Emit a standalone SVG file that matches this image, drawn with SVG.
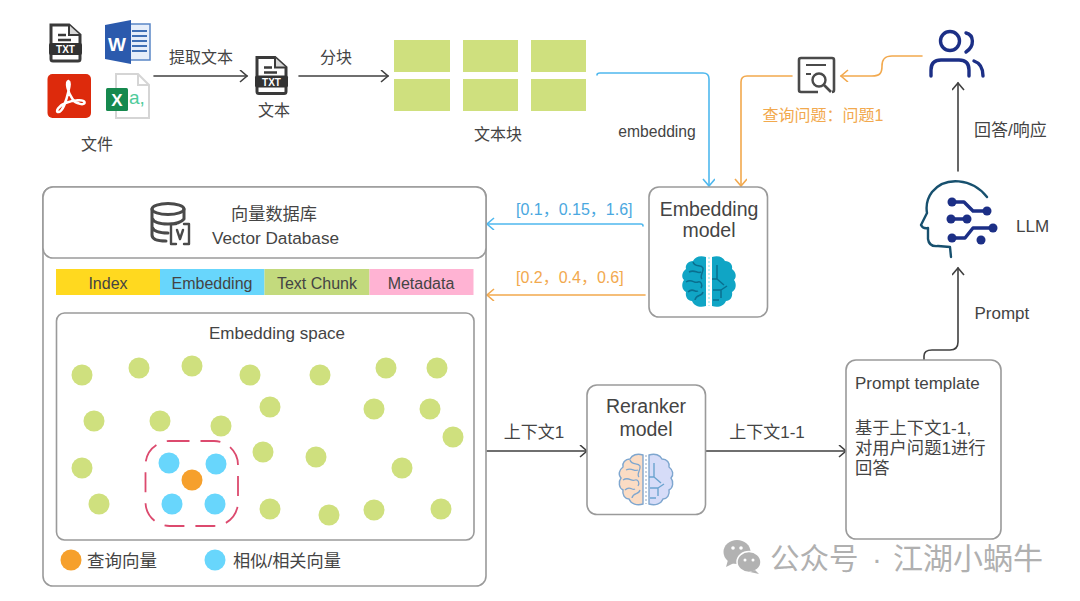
<svg xmlns="http://www.w3.org/2000/svg" width="1080" height="601" viewBox="0 0 1080 601">
<style>
text{font-family:"Liberation Sans","Noto Sans CJK SC",sans-serif;fill:#444;font-size:16px}
.m{text-anchor:middle}
.box{fill:#fff;stroke:#9a9a9a;stroke-width:1.6}
.g{fill:#cfe07e}
.b{fill:#68d6fc}
.o{fill:#f6a02c}
.c{fill:none;stroke-width:1.6;stroke-linecap:round;stroke-linejoin:round}
.k{stroke:#404040}.bl{stroke:#4fb8ee}.or{stroke:#f2a94e}
.ic{fill:none;stroke:#4a4a4a;stroke-width:3;stroke-linejoin:round;stroke-linecap:round}
.nv{fill:none;stroke:#1c2f86;stroke-width:3.4;stroke-linecap:round;stroke-linejoin:round}
.nd{fill:#1c2f86}
</style>
<defs>
<marker id="ak" markerWidth="14" markerHeight="14" refX="10" refY="6" orient="auto" markerUnits="userSpaceOnUse"><path d="M3,0L10,6L3,12" fill="none" stroke="#404040" stroke-width="1.6"/></marker>
<marker id="ab" markerWidth="14" markerHeight="14" refX="10" refY="6" orient="auto" markerUnits="userSpaceOnUse"><path d="M3,0L10,6L3,12" fill="none" stroke="#4fb8ee" stroke-width="1.6"/></marker>
<marker id="ao" markerWidth="14" markerHeight="14" refX="10" refY="6" orient="auto" markerUnits="userSpaceOnUse"><path d="M3,0L10,6L3,12" fill="none" stroke="#f2a94e" stroke-width="1.6"/></marker>
<path id="lobe" d="M-2,-25C-8,-27-13,-25-15,-21C-20,-21-23,-17-22,-13C-26,-10-27,-5-24,-2C-27,2-26,8-22,10C-23,15-20,19-16,19C-14,24-8,26-2,24Z"/>
<path id="folds" d="M-20,-10C-14,-13-12,-8-8,-10M-16,-20C-14,-14-8,-18-6,-14C-5,-10-10,-6-7,-3M-23,0C-17,-4-15,2-11,0C-8,-1-6,3-8,6M-21,10C-16,5-14,11-11,9M-14,18C-13,12-7,15-6,10"/>
<path id="trace" d="M8,-17V-3L15,3M8,-3H3M4,8H12V16M12,8L18,4M4,18H10"/>
<path id="docfig" d="M3,1H21L32,11V35Q32,37 30,37H5Q3,37 3,35Z"/>
</defs>

<g id="connectors">
<path class="c k" d="M154,76H247" marker-end="url(#ak)"/>
<path class="c k" d="M299,76H388" marker-end="url(#ak)"/>
<path class="c bl" d="M597,75Q597,73 600,73H703Q709,73 709,79V186" marker-end="url(#ab)"/>
<path class="c or" d="M792,76H747Q741,76 741,82V186" marker-end="url(#ao)"/>
<path class="c or" d="M922,56H892C884,56 882,60 882,66C882,73 880,76 872,76H841" marker-end="url(#ao)"/>
<path class="c bl" d="M643,226Q643,224 641,224H487" marker-end="url(#ab)"/>
<path class="c or" d="M645,295H487" marker-end="url(#ao)"/>
<path class="c k" d="M958,171V83" marker-end="url(#ak)"/>
<path class="c k" d="M924,360V356Q924,350 932,350H950Q958,350 958,342V268" marker-end="url(#ak)"/>
<path class="c k" d="M487,451H587" marker-end="url(#ak)"/>
<path class="c k" d="M705,451H846" marker-end="url(#ak)"/>
<text class="m" x="201" y="62.500">提取文本</text>
<text class="m" x="336" y="62.500">分块</text>
<text class="m" x="657" y="136.500" style="font-size:15.700px">embedding</text>
<text class="m" x="823" y="121" style="fill:#f2a94e">查询问题：问题1</text>
<text x="516" y="215" style="fill:#4aa8e0;font-size:16px">[0.1，0.15，1.6]</text>
<text x="516" y="283" style="fill:#f2a94e;font-size:16px">[0.2，0.4，0.6]</text>
<text x="974" y="135.500" style="font-size:17px">回答/响应</text>
<text x="974.500" y="319" style="font-size:17px">Prompt</text>
<text class="m" x="534" y="437.500" style="font-size:17px">上下文1</text>
<text class="m" x="767" y="437.500" style="font-size:17px">上下文1-1</text>
</g>

<g id="files">
<g transform="translate(48,24)"><use href="#docfig" fill="#fff" stroke="#3a3a3a" stroke-width="3"/><path d="M21,1V11H32" fill="#d9d9d9" stroke="#3a3a3a" stroke-width="2"/><path d="M10,11H18M10,16H23" stroke="#3a3a3a" stroke-width="2.500"/><rect x="1" y="19" width="33" height="12" rx="2" fill="#333"/><text x="17.500" y="29" class="m" style="fill:#fff;font-size:10px;font-weight:bold">TXT</text></g>
<g transform="translate(105,20)"><rect x="22" y="4" width="23" height="36" fill="#e6eefa" stroke="#5a86c6" stroke-width="1.500"/><path d="M27,11H42M27,16H42M27,21H42M27,26H42M27,31H42" stroke="#3f6fb5" stroke-width="1.800"/><path d="M0,5L26,0V44L0,39Z" fill="#2b5aad"/><text x="12" y="31" class="m" style="fill:#fff;font-size:19px;font-weight:bold">W</text></g>
<g transform="translate(47.500,74)"><rect width="43.500" height="44" rx="5" fill="#dd2a0c"/><path d="M21,7C18,8 20,18 25,25C28,30 38,32 37,28C36,25 26,26 18,29C12,31 7,38 11,38C15,38 19,26 21,17C22,12 23,8 21,7Z" fill="none" stroke="#fff" stroke-width="2.500"/></g>
<g transform="translate(115,73)"><path d="M1,1H23L34,12V45H1Z" fill="#fff" stroke="#d5d5d5" stroke-width="2"/><path d="M23,1V12H34" fill="none" stroke="#d5d5d5" stroke-width="2"/></g>
<rect x="106" y="88" width="22" height="23" rx="1.500" fill="#16894e"/>
<text x="117" y="106" class="m" style="fill:#fff;font-size:17px;font-weight:bold">X</text>
<text x="129" y="104" style="fill:#4ecb9a;font-size:19px">a,</text>
<text class="m" x="97" y="150">文件</text>
</g>

<g id="text-doc">
<g transform="translate(254,56.500)"><use href="#docfig" fill="#fff" stroke="#3a3a3a" stroke-width="3"/><path d="M21,1V11H32" fill="#d9d9d9" stroke="#3a3a3a" stroke-width="2"/><path d="M10,11H18M10,16H23" stroke="#3a3a3a" stroke-width="2.500"/><rect x="1" y="19" width="33" height="12" rx="2" fill="#333"/><text x="17.500" y="29" class="m" style="fill:#fff;font-size:10px;font-weight:bold">TXT</text></g>
<text class="m" x="274" y="116">文本</text>
</g>

<g id="chunks">
<rect class="g" x="394" y="40" width="56" height="32"/><rect class="g" x="463" y="40" width="55" height="32"/><rect class="g" x="531" y="40" width="55" height="32"/>
<rect class="g" x="394" y="79" width="56" height="32"/><rect class="g" x="463" y="79" width="55" height="32"/><rect class="g" x="531" y="79" width="55" height="32"/>
<text class="m" x="498" y="140">文本块</text>
</g>

<g id="query">
<rect x="799" y="58" width="35" height="34" rx="2" fill="none" stroke="#4a4a4a" stroke-width="2.600"/>
<path d="M806,65H826M806,74H811" stroke="#4a4a4a" stroke-width="2.200" fill="none"/>
<rect x="818" y="84" width="14" height="10" fill="#fff"/>
<circle cx="819" cy="80" r="6.500" fill="#fff" stroke="#4a4a4a" stroke-width="2.400"/>
<path d="M824,85L831,92" stroke="#4a4a4a" stroke-width="2.600"/>
</g>

<g id="users">
<circle cx="950" cy="41" r="9.500" class="nv"/>
<path class="nv" d="M931,76V70Q931,60 941,60H959Q969,60 969,70V76"/>
<path class="nv" d="M966,33C974,35 975,46 966,52M974,61Q983,64 983,76"/>
</g>

<g id="llm">
<path fill="none" stroke="#17506e" stroke-width="2.400" stroke-linecap="round" stroke-linejoin="round" d="M987,197C972,178 945,176 932,192C926,200 926,207 927,213L921,225Q923,229 928,228V239Q929,247 938,246L950,247L951,257"/>
<path class="nv" d="M952,202H964L973,211H987M952,219H968M952,238H965L973,228H993"/>
<circle class="nd" cx="952" cy="202" r="4.500"/><circle class="nd" cx="987" cy="211" r="4.500"/><circle class="nd" cx="951" cy="219" r="4.500"/><circle class="nd" cx="967" cy="219" r="4.500"/><circle class="nd" cx="993" cy="228" r="4.500"/><circle class="nd" cx="952" cy="238" r="4.500"/><circle class="nd" cx="981" cy="240" r="4.500"/>
<text x="1016" y="232" style="font-size:17px">LLM</text>
</g>

<g id="embedding-model">
<rect class="box" x="649" y="187" width="118.500" height="130" rx="10"/>
<text class="m" x="709" y="216" style="font-size:19.500px">Embedding</text>
<text class="m" x="709" y="237" style="font-size:19.500px">model</text>
<g transform="translate(709,282)"><use href="#lobe" transform="translate(-1,0)" fill="#10a5c5"/><use href="#lobe" transform="translate(1,0) scale(-1,1)" fill="#10a5c5"/><use href="#folds" fill="none" stroke="#0a6f8f" stroke-width="1.500"/><use href="#trace" fill="none" stroke="#0a6f8f" stroke-width="1.500"/><path d="M0,-25V24" stroke="#bff0f7" stroke-width="2" stroke-dasharray="2 2"/></g>
</g>

<g id="vector-db">
<rect class="box" x="43" y="187" width="443" height="399" rx="10"/>
<rect class="box" x="43" y="187" width="443" height="71" rx="10"/>
<g>
<ellipse cx="168" cy="209" rx="16" ry="5.500" class="ic"/>
<path class="ic" d="M152,209V235Q152,241 166,241M184,209V219M152,218Q154,224 168,224Q180,224 184,219M152,227Q154,233 168,233"/>
<path class="ic" style="stroke-width:2.400" d="M176,224H171V244H176M184,224H189V244H184M177,230L180,239L183,230"/>
</g>
<text class="m" x="274" y="220" style="font-size:17.200px">向量数据库</text>
<text class="m" x="275.500" y="244" style="font-size:17.200px">Vector Database</text>
<rect x="56" y="269" width="104" height="26" fill="#ffd91f"/>
<rect x="160" y="269" width="104.500" height="26" fill="#68d6fc"/>
<rect x="264.500" y="269" width="105" height="26" fill="#c3da7d"/>
<rect x="369.500" y="269" width="104" height="26" fill="#ffb3d3"/>
<text class="m" x="108" y="288.500">Index</text>
<text class="m" x="212" y="288.500">Embedding</text>
<text class="m" x="317" y="288.500">Text Chunk</text>
<text class="m" x="421" y="288.500">Metadata</text>
<rect class="box" x="56.500" y="313" width="417.500" height="227" rx="8"/>
<text class="m" x="277" y="339" style="font-size:17px">Embedding space</text>
<g class="g">
<circle cx="82" cy="375" r="10.500"/><circle cx="139" cy="368" r="10.500"/><circle cx="192" cy="366" r="10.500"/><circle cx="250" cy="375" r="10.500"/><circle cx="320" cy="375" r="10.500"/><circle cx="386" cy="368" r="10.500"/><circle cx="437" cy="368" r="10.500"/>
<circle cx="94" cy="421" r="10.500"/><circle cx="160" cy="421" r="10.500"/><circle cx="221" cy="426" r="10.500"/><circle cx="270" cy="407" r="10.500"/><circle cx="374" cy="409" r="10.500"/><circle cx="430" cy="409" r="10.500"/><circle cx="453" cy="437" r="10.500"/>
<circle cx="82" cy="468" r="10.500"/><circle cx="263" cy="452" r="10.500"/><circle cx="316" cy="457" r="10.500"/><circle cx="402" cy="468" r="10.500"/>
<circle cx="99" cy="504" r="10.500"/><circle cx="270" cy="509" r="10.500"/><circle cx="329" cy="515" r="10.500"/><circle cx="374" cy="510" r="10.500"/><circle cx="441" cy="509" r="10.500"/>
</g>
<rect x="145.500" y="441" width="92.500" height="85" rx="24" fill="none" stroke="#dc4a6e" stroke-width="1.800" stroke-dasharray="20 11"/>
<g class="b"><circle cx="169" cy="463" r="10.500"/><circle cx="216" cy="464" r="10.500"/><circle cx="172" cy="504" r="10.500"/><circle cx="215" cy="504" r="10.500"/></g>
<circle class="o" cx="192" cy="480" r="10.500"/>
<circle class="o" cx="71" cy="560" r="10.500"/>
<text x="87" y="566.500" style="font-size:17.500px">查询向量</text>
<circle class="b" cx="215" cy="560" r="10.500"/>
<text x="233" y="566.500" style="font-size:17.200px">相似/相关向量</text>
</g>

<g id="reranker-model">
<rect class="box" x="587" y="385" width="118.500" height="129.500" rx="10"/>
<text class="m" x="646" y="412.500" style="font-size:19.500px">Reranker</text>
<text class="m" x="646" y="435.500" style="font-size:19.500px">model</text>
<g transform="translate(646,480)"><use href="#lobe" transform="translate(-1,0)" fill="#fbdcc4" stroke="#7ea6cf" stroke-width="1.400"/><use href="#lobe" transform="translate(1,0) scale(-1,1)" fill="#d6dcf8" stroke="#7ea6cf" stroke-width="1.400"/><use href="#folds" fill="none" stroke="#7ea6cf" stroke-width="1.300"/><use href="#trace" fill="none" stroke="#6ba3cf" stroke-width="1.400"/><path d="M0,-25V24" stroke="#8fa3bd" stroke-width="1" stroke-dasharray="2 2"/></g>
</g>

<g id="prompt-template">
<rect class="box" x="846" y="360" width="155" height="179" rx="10"/>
<text x="855" y="389" style="font-size:17px">Prompt template</text>
<text x="855" y="434" style="font-size:17.300px">基于上下文1-1,</text>
<text x="855" y="454" style="font-size:17.300px">对用户问题1进行</text>
<text x="855" y="474" style="font-size:17.300px">回答</text>
</g>

<g id="watermark">
<ellipse cx="737" cy="552" rx="13.500" ry="12" fill="#b2b2b2"/><path d="M728,560L726,567L734,563Z" fill="#b2b2b2"/>
<ellipse cx="749" cy="562" rx="12" ry="10.500" fill="#b2b2b2" stroke="#fff" stroke-width="1.500"/><path d="M755,570L759,574L750,572Z" fill="#b2b2b2"/>
<circle cx="733" cy="548" r="1.800" fill="#fff"/><circle cx="741" cy="548" r="1.800" fill="#fff"/><circle cx="745" cy="560" r="1.500" fill="#fff"/><circle cx="753" cy="560" r="1.500" fill="#fff"/>
<text x="770" y="569" style="fill:#b0b0b0;font-size:29.500px">公众号</text>
<text x="872" y="569" style="fill:#b0b0b0;font-size:29.500px">·</text>
<text x="893" y="569" style="fill:#b0b0b0;font-size:30px">江湖小蜗牛</text>
</g>
</svg>
